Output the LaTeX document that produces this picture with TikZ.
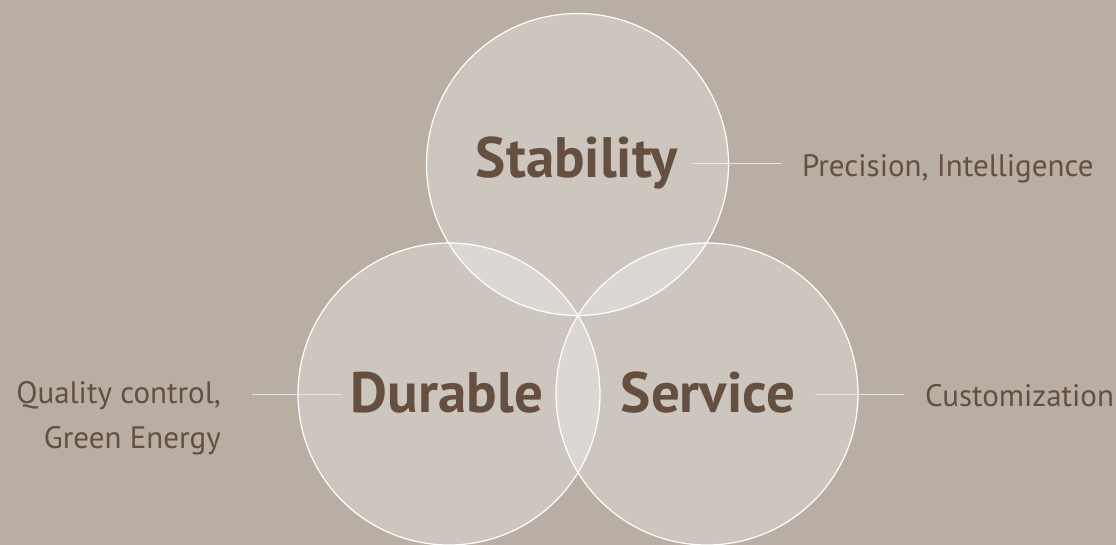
\documentclass[tikz,border=0pt]{standalone}
\usepackage{fontspec}
\setmainfont{PT Sans}
\definecolor{bgc}{RGB}{184,174,164}
\definecolor{txt}{RGB}{100,79,64}
\definecolor{lnc}{RGB}{232,228,224}
\tikzset{
  ring/.style={circle, minimum size=302pt, inner sep=0pt, draw=white, line width=1.2pt, fill=white, fill opacity=0.3, draw opacity=1},
  bigtext/.style={text=txt, font=\fontsize{57}{60}\selectfont\bfseries, inner sep=0pt},
  smalltext/.style={text=txt, font=\fontsize{31}{45}\selectfont, inner sep=0pt},
  leader/.style={draw=lnc, line width=1pt}
}
\begin{document}
\begin{tikzpicture}[x=1pt,y=-1pt]
\fill[bgc] (0,0) rectangle (1116,545);
\useasboundingbox (0,0) rectangle (1116,545);
\node[ring] (ctop) at (577.5,164.5) {};
\node[ring] (cleft) at (449,394) {};
\node[ring] (cright) at (707,394) {};
\node[bigtext] (stab) at (577,163) {Stability};
\node[bigtext] (dur) at (447,393) {Durable};
\node[bigtext] (serv) at (708,393) {Service};
\node[smalltext, anchor=west] (prec) at (802,169) {Precision, Intelligence};
\node[smalltext, anchor=west] (cust) at (925,396) {Customization};
\node[smalltext, anchor=east, align=right] (qual) at (221,418) {Quality control,\\Green Energy};
\coordinate (a1) at (692,164); \coordinate (a2) at (782,164);
\coordinate (b1) at (252,394); \coordinate (b2) at (342,394);
\coordinate (c1) at (815,394); \coordinate (c2) at (904,394);
\draw[leader] (a1) -- (a2);
\draw[leader] (b1) -- (b2);
\draw[leader] (c1) -- (c2);
\end{tikzpicture}
\end{document}
